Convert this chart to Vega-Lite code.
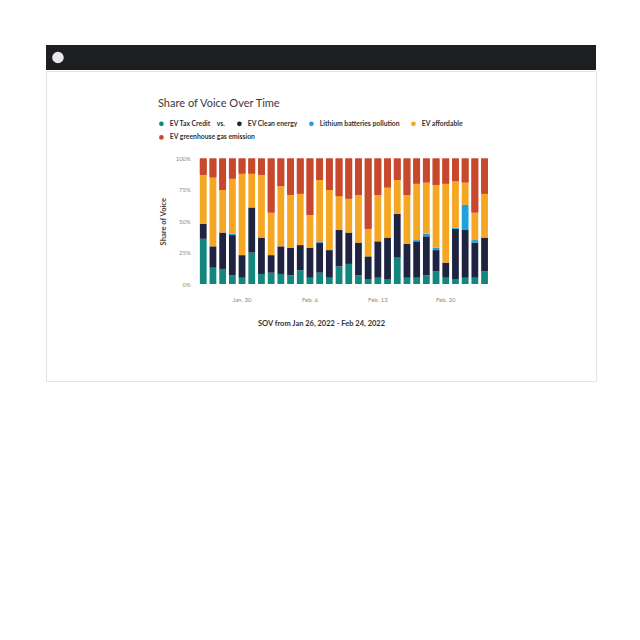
{
  "$schema": "https://vega.github.io/schema/vega-lite/v6.json",
  "background": "white",
  "padding": {"left": 45, "top": 45, "right": 0, "bottom": 0},
  "config": {"font": "Lato", "view": {"stroke": null}},
  "spacing": 0,
  "vconcat": [
    {
      "width": 550,
      "height": 25,
      "view": {"fill": "#1d1e22", "stroke": null},
      "data": {"values": [{"cx": 1, "cy": 1}]},
      "mark": {"type": "circle", "size": 135, "color": "#e8e8e9", "opacity": 1},
      "encoding": {
        "x": {"field": "cx", "type": "quantitative", "scale": {"domain": [0, 46]}, "axis": null},
        "y": {"field": "cy", "type": "quantitative", "scale": {"domain": [0, 2]}, "axis": null}
      }
    },
    {
      "width": 550,
      "height": 310,
      "view": {"fill": "white", "stroke": "#e4e4e4"},
      "title": {
        "text": "Share of Voice Over Time",
        "anchor": "start",
        "frame": "group",
        "dx": 112,
        "offset": -38,
        "fontSize": 11,
        "fontWeight": "normal",
        "color": "#3a3a3a",
        "font": "Lato"
      },
      "data": {
        "values": [
          {"date": "Jan. 26", "EV Tax Credit": 36, "EV Clean energy": 12, "Lithium batteries pollution": 0, "EV affordable": 39, "EV greenhouse gas emission": 13},
          {"date": "Jan. 27", "EV Tax Credit": 13, "EV Clean energy": 17, "Lithium batteries pollution": 0, "EV affordable": 55, "EV greenhouse gas emission": 15},
          {"date": "Jan. 28", "EV Tax Credit": 12, "EV Clean energy": 29, "Lithium batteries pollution": 0, "EV affordable": 34, "EV greenhouse gas emission": 25},
          {"date": "Jan. 29", "EV Tax Credit": 7, "EV Clean energy": 32, "Lithium batteries pollution": 1, "EV affordable": 44, "EV greenhouse gas emission": 16},
          {"date": "Jan. 30", "EV Tax Credit": 5, "EV Clean energy": 18, "Lithium batteries pollution": 0, "EV affordable": 65, "EV greenhouse gas emission": 12},
          {"date": "Jan. 31", "EV Tax Credit": 25, "EV Clean energy": 36, "Lithium batteries pollution": 0, "EV affordable": 27, "EV greenhouse gas emission": 12},
          {"date": "Feb. 1", "EV Tax Credit": 8, "EV Clean energy": 29, "Lithium batteries pollution": 0, "EV affordable": 50, "EV greenhouse gas emission": 13},
          {"date": "Feb. 2", "EV Tax Credit": 9, "EV Clean energy": 14, "Lithium batteries pollution": 0, "EV affordable": 34, "EV greenhouse gas emission": 43},
          {"date": "Feb. 3", "EV Tax Credit": 8, "EV Clean energy": 22, "Lithium batteries pollution": 0, "EV affordable": 48, "EV greenhouse gas emission": 22},
          {"date": "Feb. 4", "EV Tax Credit": 7, "EV Clean energy": 22, "Lithium batteries pollution": 0, "EV affordable": 42, "EV greenhouse gas emission": 29},
          {"date": "Feb. 5", "EV Tax Credit": 11, "EV Clean energy": 20, "Lithium batteries pollution": 0, "EV affordable": 41, "EV greenhouse gas emission": 28},
          {"date": "Feb. 6", "EV Tax Credit": 5, "EV Clean energy": 24, "Lithium batteries pollution": 0, "EV affordable": 26, "EV greenhouse gas emission": 45},
          {"date": "Feb. 7", "EV Tax Credit": 9, "EV Clean energy": 24, "Lithium batteries pollution": 1, "EV affordable": 49, "EV greenhouse gas emission": 17},
          {"date": "Feb. 8", "EV Tax Credit": 5, "EV Clean energy": 22, "Lithium batteries pollution": 0, "EV affordable": 48, "EV greenhouse gas emission": 25},
          {"date": "Feb. 9", "EV Tax Credit": 14, "EV Clean energy": 29, "Lithium batteries pollution": 0, "EV affordable": 27, "EV greenhouse gas emission": 30},
          {"date": "Feb. 10", "EV Tax Credit": 16, "EV Clean energy": 25, "Lithium batteries pollution": 0, "EV affordable": 27, "EV greenhouse gas emission": 32},
          {"date": "Feb. 11", "EV Tax Credit": 7, "EV Clean energy": 26, "Lithium batteries pollution": 0, "EV affordable": 38, "EV greenhouse gas emission": 29},
          {"date": "Feb. 12", "EV Tax Credit": 4, "EV Clean energy": 18, "Lithium batteries pollution": 0, "EV affordable": 22, "EV greenhouse gas emission": 56},
          {"date": "Feb. 13", "EV Tax Credit": 5, "EV Clean energy": 29, "Lithium batteries pollution": 0, "EV affordable": 37, "EV greenhouse gas emission": 29},
          {"date": "Feb. 14", "EV Tax Credit": 4, "EV Clean energy": 33, "Lithium batteries pollution": 0, "EV affordable": 40, "EV greenhouse gas emission": 23},
          {"date": "Feb. 15", "EV Tax Credit": 21, "EV Clean energy": 35, "Lithium batteries pollution": 0, "EV affordable": 27, "EV greenhouse gas emission": 17},
          {"date": "Feb. 16", "EV Tax Credit": 5, "EV Clean energy": 27, "Lithium batteries pollution": 0, "EV affordable": 39, "EV greenhouse gas emission": 29},
          {"date": "Feb. 17", "EV Tax Credit": 5, "EV Clean energy": 29, "Lithium batteries pollution": 1, "EV affordable": 45, "EV greenhouse gas emission": 20},
          {"date": "Feb. 18", "EV Tax Credit": 7, "EV Clean energy": 31, "Lithium batteries pollution": 2, "EV affordable": 41, "EV greenhouse gas emission": 19},
          {"date": "Feb. 19", "EV Tax Credit": 10, "EV Clean energy": 17, "Lithium batteries pollution": 2, "EV affordable": 50, "EV greenhouse gas emission": 21},
          {"date": "Feb. 20", "EV Tax Credit": 5, "EV Clean energy": 12, "Lithium batteries pollution": 0, "EV affordable": 63, "EV greenhouse gas emission": 20},
          {"date": "Feb. 21", "EV Tax Credit": 4, "EV Clean energy": 40, "Lithium batteries pollution": 1, "EV affordable": 37, "EV greenhouse gas emission": 18},
          {"date": "Feb. 22", "EV Tax Credit": 5, "EV Clean energy": 38, "Lithium batteries pollution": 20, "EV affordable": 18, "EV greenhouse gas emission": 19},
          {"date": "Feb. 23", "EV Tax Credit": 5, "EV Clean energy": 28, "Lithium batteries pollution": 2, "EV affordable": 22, "EV greenhouse gas emission": 43},
          {"date": "Feb. 24", "EV Tax Credit": 10, "EV Clean energy": 27, "Lithium batteries pollution": 0, "EV affordable": 35, "EV greenhouse gas emission": 28}
        ]
      },
      "transform": [
        {"fold": ["EV Tax Credit", "EV Clean energy", "Lithium batteries pollution", "EV affordable", "EV greenhouse gas emission"], "as": ["topic", "share"]},
        {"calculate": "indexof(['EV Tax Credit', 'EV Clean energy', 'Lithium batteries pollution', 'EV affordable', 'EV greenhouse gas emission'], datum.topic)", "as": "stackorder"},
        {"stack": "share", "groupby": ["date"], "offset": "normalize", "sort": [{"field": "stackorder", "order": "ascending"}], "as": ["y0", "y1"]}
      ],
      "encoding": {
        "x": {
          "field": "date",
          "type": "ordinal",
          "sort": null,
          "scale": {"type": "band", "range": [152.4, 443.4], "paddingInner": 0.3, "paddingOuter": 0.15},
          "axis": {
            "values": ["Jan. 30", "Feb. 6", "Feb. 13", "Feb. 20"],
            "offset": -97,
            "domain": false,
            "ticks": false,
            "labelPadding": 12,
            "labelFontSize": 6,
            "labelColor": "#8a8a8a",
            "labelAngle": 0,
            "title": "SOV from Jan 26, 2022 - Feb 24, 2022",
            "titleX": 275,
            "titleY": 39,
            "titleAlign": "center",
            "titleBaseline": "middle",
            "titleFontSize": 7.5,
            "titleFontWeight": "bold",
            "titleColor": "#333333"
          }
        },
        "y": {
          "field": "y1",
          "type": "quantitative",
          "scale": {"domain": [0, 1], "range": [213, 87.5]},
          "axis": {
            "values": [0, 0.25, 0.5, 0.75, 1],
            "format": ".0%",
            "offset": -152.4,
            "domain": false,
            "ticks": false,
            "grid": false,
            "labelPadding": 8,
            "labelFontSize": 6,
            "labelColor": "#8a8a8a",
            "title": "Share of Voice",
            "titleFontSize": 7.5,
            "titleFontWeight": "bold",
            "titleColor": "#444444",
            "titlePadding": 8
          }
        },
        "y2": {"field": "y0"}
      },
      "layer": [
        {
          "mark": {"type": "bar"},
          "encoding": {
            "color": {
              "field": "topic",
              "type": "nominal",
              "sort": ["EV Tax Credit", "EV Clean energy", "Lithium batteries pollution", "EV affordable", "EV greenhouse gas emission"],
              "scale": {
                "domain": ["EV Tax Credit", "EV Clean energy", "Lithium batteries pollution", "EV affordable", "EV greenhouse gas emission"],
                "range": ["#13877b", "#1d2340", "#20a1dd", "#f5a623", "#c8482e"]
              },
              "legend": {
                "orient": "none",
                "legendX": 112,
                "legendY": 75,
                "direction": "horizontal",
                "values": ["EV Tax Credit", "EV Clean energy", "Lithium batteries pollution", "EV affordable"],
                "title": null,
                "symbolType": "circle",
                "symbolSize": 22,
                "symbolStrokeWidth": 0,
                "labelFontSize": 6.8,
                "labelFont": "Lato",
                "labelFontWeight": "bold",
                "labelColor": "#333333",
                "labelOffset": 5,
                "columnPadding": 10,
                "labelExpr": "datum.label == 'EV Tax Credit' ? 'EV Tax Credit\u00a0\u00a0\u00a0\u00a0vs.' : datum.label"
              }
            }
          }
        },
        {
          "transform": [{"filter": "datum.topic == 'EV greenhouse gas emission'"}],
          "mark": {"type": "bar"},
          "encoding": {
            "fill": {
              "field": "topic",
              "type": "nominal",
              "scale": {"domain": ["EV greenhouse gas emission"], "range": ["#c8482e"]},
              "legend": {
                "orient": "none",
                "legendX": 112,
                "legendY": 89,
                "direction": "horizontal",
                "title": null,
                "symbolType": "circle",
                "symbolSize": 22,
                "symbolStrokeWidth": 0,
                "labelFontSize": 6.8,
                "labelFont": "Lato",
                "labelFontWeight": "bold",
                "labelColor": "#333333",
                "labelOffset": 5
              }
            }
          }
        }
      ]
    }
  ]
}
